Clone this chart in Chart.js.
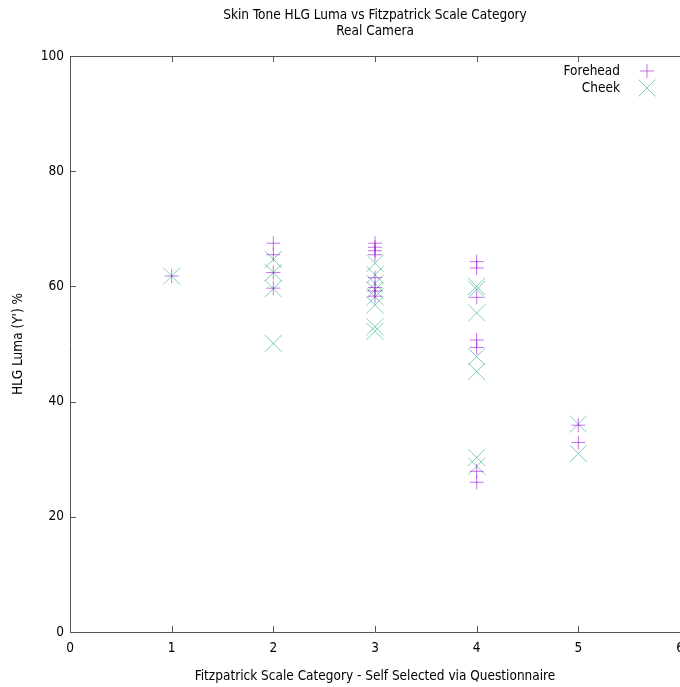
<!DOCTYPE html>
<html>
<head>
<meta charset="utf-8">
<script src="https://cdn.jsdelivr.net/npm/chart.js@4/dist/chart.umd.min.js"></script>
<style>
  body { margin: 0; background: #fff; }
  #wrap { width: 680px; height: 687px; }
</style>
</head>
<body>
<div id="wrap"><canvas id="chart" width="680" height="687"></canvas></div>
<script>
// values
var foreheadCat = [1, 2, 2, 2, 2, 3, 3, 3, 3, 3, 3, 3, 3, 4, 4, 4, 4, 4, 4, 4, 5, 5];
var foreheadLuma = [61.8, 67.5, 65.5, 62.4, 59.7, 67.5, 66.8, 66.2, 65.5, 61.5, 59.8, 59.2, 58.3,
  64.3, 63.2, 58.1, 50.7, 49.4, 27.9, 26.0, 35.9, 32.9];
var cheekCat = [1, 2, 2, 2, 2, 3, 3, 3, 3, 3, 3, 3, 3, 4, 4, 4, 4, 4, 4, 4, 5, 5];
var cheekLuma = [61.8, 64.7, 62.4, 59.6, 50.1, 64.0, 62.0, 60.5, 59.4, 58.2, 56.8, 53.0, 52.2,
  60.0, 59.5, 55.4, 47.8, 45.2, 30.3, 28.8, 36.1, 31.0];
var xTicks = [0, 1, 2, 3, 4, 5, 6];
var yTicks = [0, 20, 40, 60, 80, 100];
var titleLines = ["Skin Tone HLG Luma vs Fitzpatrick Scale Category", "Real Camera"];

var fontFam = "'DejaVu Sans Condensed', 'DejaVu Sans', sans-serif";
var fontSize = 13.5;
var axisCol = "#555";

function pts(xs, ys) {
  var out = [];
  for (var i = 0; i < xs.length; i++) out.push({x: xs[i], y: ys[i]});
  return out;
}

// gnuplot-ish frame: inward ticks, top border, title, key
var framePlugin = {
  id: "frame",
  afterDraw: function(chart) {
    var ctx = chart.ctx;
    var a = chart.chartArea;
    var xs = chart.scales.x, ys = chart.scales.y;
    ctx.save();
    ctx.strokeStyle = axisCol;
    ctx.lineWidth = 1;
    ctx.beginPath();
    ctx.moveTo(a.left, a.top + 0.5);
    ctx.lineTo(a.right, a.top + 0.5);
    xTicks.forEach(function(v) {
      var px = Math.round(xs.getPixelForValue(v)) + 0.5;
      ctx.moveTo(px, a.bottom); ctx.lineTo(px, a.bottom - 6);
      ctx.moveTo(px, a.top); ctx.lineTo(px, a.top + 6);
    });
    yTicks.forEach(function(v) {
      var py = Math.round(ys.getPixelForValue(v)) + 0.5;
      ctx.moveTo(a.left, py); ctx.lineTo(a.left + 6, py);
    });
    ctx.stroke();

    ctx.fillStyle = "#000";
    ctx.font = fontSize + "px " + fontFam;
    ctx.textAlign = "center";
    ctx.textBaseline = "middle";
    var cx = (a.left + a.right) / 2;
    ctx.fillText(titleLines[0], cx, 15);
    ctx.fillText(titleLines[1], cx, 31);

    // key
    ctx.textAlign = "right";
    chart.data.datasets.forEach(function(ds, i) {
      var y = 71 + i * 17;
      ctx.fillStyle = "#000";
      ctx.fillText(ds.label, 620, y);
      ctx.strokeStyle = ds.borderColor;
      Chart.helpers.drawPoint(ctx, {pointStyle: ds.pointStyle, radius: ds.pointRadius, borderWidth: 1, rotation: 0}, 647, y);
    });
    ctx.restore();
  }
};

new Chart(document.getElementById("chart"), {
  type: "scatter",
  data: {
    datasets: [{
      label: "Forehead",
      data: pts(foreheadCat, foreheadLuma),
      pointStyle: "cross",
      pointRadius: 7,
      pointBorderWidth: 1,
      borderColor: "rgba(148,0,211,0.55)",
      backgroundColor: "rgba(148,0,211,0.55)"
    }, {
      label: "Cheek",
      data: pts(cheekCat, cheekLuma),
      pointStyle: "crossRot",
      pointRadius: 12,
      pointBorderWidth: 1,
      borderColor: "rgba(0,158,115,0.5)",
      backgroundColor: "rgba(0,158,115,0.5)"
    }]
  },
  options: {
    responsive: false,
    animation: false,
    layout: {autoPadding: false, padding: {top: 56, left: 1, right: 0, bottom: 0}},
    plugins: {
      legend: {display: false},
      title: {display: false},
      tooltip: {enabled: false}
    },
    scales: {
      x: {
        type: "linear",
        min: 0, max: 6,
        afterFit: function(s) { s.height = 55; s.paddingLeft = 0; s.paddingRight = 0; },
        afterBuildTicks: function(s) { s.ticks = xTicks.map(function(v) { return {value: v}; }); },
        grid: {display: false, drawTicks: false},
        border: {display: true, color: axisCol},
        ticks: {color: "#000", padding: 8, maxRotation: 0, font: {family: fontFam, size: fontSize}},
        title: {display: true, text: "Fitzpatrick Scale Category - Self Selected via Questionnaire",
          color: "#000", font: {family: fontFam, size: fontSize}, padding: {top: 4, bottom: 2}}
      },
      y: {
        min: 0, max: 100,
        afterFit: function(s) { s.width = 69; },
        afterBuildTicks: function(s) { s.ticks = yTicks.map(function(v) { return {value: v}; }); },
        grid: {display: false, drawTicks: false},
        border: {display: true, color: axisCol},
        ticks: {color: "#000", padding: 6, font: {family: fontFam, size: fontSize}},
        title: {display: true, text: "HLG Luma (Y') %", color: "#000",
          font: {family: fontFam, size: fontSize}, padding: {top: 9, bottom: 0}}
      }
    }
  },
  plugins: [framePlugin]
});
</script>
</body>
</html>
